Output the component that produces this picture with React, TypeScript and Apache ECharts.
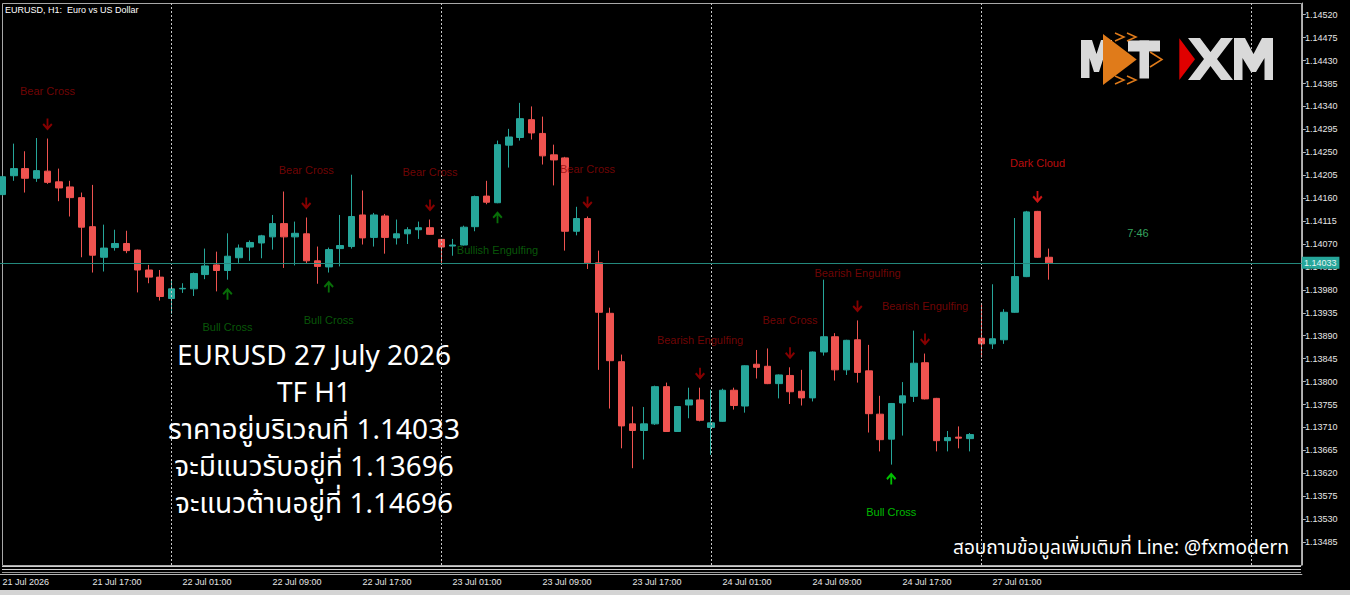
import React, { useEffect, useRef } from 'react';
import * as echarts from 'echarts';

// ---- data ----
const dayHours: [string, number, number][] = [
  ['21 Jul', 9, 23], ['22 Jul', 0, 23], ['23 Jul', 0, 23], ['24 Jul', 0, 23], ['27 Jul', 0, 23], ['28 Jul', 0, 4],
];
const xTickLabels = ['21 Jul 2026', '21 Jul 17:00', '22 Jul 01:00', '22 Jul 09:00', '22 Jul 17:00', '23 Jul 01:00',
  '23 Jul 09:00', '23 Jul 17:00', '24 Jul 01:00', '24 Jul 09:00', '24 Jul 17:00', '27 Jul 01:00'];
const daySeparators = ['22 Jul 00:00', '23 Jul 00:00', '24 Jul 00:00', '27 Jul 00:00', '28 Jul 00:00'];

const opens = [1.14167, 1.14204, 1.14218, 1.14199, 1.14213, 1.14192, 1.14182, 1.14161, 1.14104, 1.14044,
  1.14063, 1.14071, 1.14058, 1.14019, 1.14005, 1.13963, 1.13982, 1.13982, 1.14010, 1.14029,
  1.14018, 1.14043, 1.14064, 1.14072, 1.14084, 1.14110, 1.14084, 1.14090, 1.14037, 1.14025,
  1.14061, 1.14065, 1.14127, 1.14083, 1.14125, 1.14082, 1.14090, 1.14098, 1.14102, 1.14079,
  1.14066, 1.14068, 1.14104, 1.14164, 1.14151, 1.14264, 1.14279, 1.14314, 1.14287, 1.14245,
  1.14239, 1.14095, 1.14120, 1.14033, 1.13934, 1.13839, 1.13717, 1.13704, 1.13717, 1.13790,
  1.13702, 1.13754, 1.13764, 1.13710, 1.13722, 1.13783, 1.13752, 1.13834, 1.13830, 1.13796,
  1.13812, 1.13781, 1.13768, 1.13858, 1.13888, 1.13823, 1.13882, 1.13821, 1.13736, 1.13687,
  1.13758, 1.13771, 1.13837, 1.13767, 1.13684, 1.13691, 1.13688, 1.13885, 1.13874, 1.13882,
  1.13936, 1.14006, 1.14134, 1.14044];
const closes = [1.14202, 1.14218, 1.14199, 1.14214, 1.14191, 1.14180, 1.14161, 1.14103, 1.14048, 1.14062,
  1.14071, 1.14057, 1.14019, 1.14005, 1.13967, 1.13982, 1.13983, 1.14012, 1.14027, 1.14018,
  1.14046, 1.14062, 1.14073, 1.14086, 1.14110, 1.14084, 1.14091, 1.14037, 1.14026, 1.14059,
  1.14067, 1.14124, 1.14082, 1.14127, 1.14083, 1.14090, 1.14098, 1.14102, 1.14089, 1.14064,
  1.14068, 1.14103, 1.14163, 1.14152, 1.14265, 1.14280, 1.14316, 1.14288, 1.14243, 1.14235,
  1.14095, 1.14120, 1.14033, 1.13936, 1.13841, 1.13713, 1.13704, 1.13717, 1.13790, 1.13702,
  1.13751, 1.13764, 1.13724, 1.13719, 1.13783, 1.13753, 1.13831, 1.13828, 1.13796, 1.13813,
  1.13780, 1.13768, 1.13858, 1.13888, 1.13823, 1.13881, 1.13818, 1.13737, 1.13686, 1.13757,
  1.13772, 1.13836, 1.13766, 1.13684, 1.13690, 1.13689, 1.13696, 1.13874, 1.13884, 1.13936,
  1.14006, 1.14133, 1.14044, 1.14033];
const lows = [1.14165, 1.14194, 1.14171, 1.14192, 1.14188, 1.14154, 1.14124, 1.14044, 1.14014, 1.14016,
  1.14057, 1.14052, 1.13975, 1.13993, 1.13959, 1.13933, 1.13974, 1.13968, 1.14001, 1.13977,
  1.14000, 1.14033, 1.14037, 1.14042, 1.14059, 1.14023, 1.14028, 1.14031, 1.13992, 1.14014,
  1.14026, 1.14061, 1.14069, 1.14065, 1.14051, 1.14069, 1.14070, 1.14080, 1.14088, 1.14033,
  1.14047, 1.14067, 1.14095, 1.14148, 1.14150, 1.14220, 1.14273, 1.14275, 1.14226, 1.14185,
  1.14057, 1.14087, 1.14021, 1.13823, 1.13747, 1.13669, 1.13630, 1.13647, 1.13715, 1.13701,
  1.13701, 1.13728, 1.13722, 1.13656, 1.13721, 1.13745, 1.13739, 1.13806, 1.13795, 1.13767,
  1.13756, 1.13753, 1.13761, 1.13851, 1.13802, 1.13813, 1.13798, 1.13700, 1.13663, 1.13637,
  1.13694, 1.13760, 1.13765, 1.13663, 1.13663, 1.13669, 1.13663, 1.13847, 1.13864, 1.13874,
  1.13935, 1.14005, 1.14043, 1.14000];
const highs = [1.14204, 1.14267, 1.14252, 1.14278, 1.14277, 1.14218, 1.14194, 1.14171, 1.14186, 1.14108,
  1.14098, 1.14096, 1.14059, 1.14029, 1.14019, 1.14000, 1.13993, 1.14014, 1.14061, 1.14055,
  1.14091, 1.14069, 1.14077, 1.14088, 1.14127, 1.14173, 1.14114, 1.14122, 1.14065, 1.14063,
  1.14127, 1.14206, 1.14175, 1.14131, 1.14129, 1.14118, 1.14103, 1.14114, 1.14118, 1.14080,
  1.14080, 1.14106, 1.14165, 1.14194, 1.14273, 1.14296, 1.14347, 1.14340, 1.14320, 1.14265,
  1.14241, 1.14143, 1.14124, 1.14057, 1.13945, 1.13853, 1.13751, 1.13750, 1.13792, 1.13798,
  1.13752, 1.13788, 1.13788, 1.13784, 1.13786, 1.13788, 1.13832, 1.13862, 1.13865, 1.13814,
  1.13828, 1.13823, 1.13859, 1.14000, 1.13895, 1.13882, 1.13920, 1.13872, 1.13772, 1.13758,
  1.13799, 1.13900, 1.13855, 1.13768, 1.13703, 1.13712, 1.13699, 1.13951, 1.13991, 1.13942,
  1.14121, 1.14135, 1.14135, 1.14061];

const bearSignals = [
  { idx: 4, text: 'Bear Cross', fresh: false },
  { idx: 27, text: 'Bear Cross', fresh: false },
  { idx: 38, text: 'Bear Cross', fresh: false },
  { idx: 52, text: 'Bear Cross', fresh: false },
  { idx: 62, text: 'Bearish Engulfing', fresh: false },
  { idx: 70, text: 'Bear Cross', fresh: false },
  { idx: 76, text: 'Bearish Engulfing', fresh: false },
  { idx: 82, text: 'Bearish Engulfing', fresh: false },
  { idx: 92, text: 'Dark Cloud', fresh: true },
];
const bullSignals = [
  { idx: 20, text: 'Bull Cross', fresh: false },
  { idx: 29, text: 'Bull Cross', fresh: false },
  { idx: 44, text: 'Bullish Engulfing', fresh: false },
  { idx: 79, text: 'Bull Cross', fresh: true },
];

const currentPrice = 1.14033;
const yMin = 1.1344;
const yMax = 1.14543;
const yStep = 0.00045;
const timerText = '7:46';
const titleText = 'EURUSD, H1:  Euro vs US Dollar';
const infoLines = [
  'EURUSD 27 July 2026',
  'TF H1',
  'ราคาอยู่บริเวณที่ 1.14033',
  'จะมีแนวรับอยู่ที่ 1.13696',
  'จะแนวต้านอยู่ที่ 1.14696',
];
const contactText = 'สอบถามข้อมูลเพิ่มเติมที่ Line: @fxmodern';

// ---- derived ----
const categories: string[] = [];
dayHours.forEach(([d, a, b]) => {
  for (let h = a; h <= b; h++) categories.push(`${d} ${String(h).padStart(2, '0')}:00`);
});
const candleData = categories.map((_, i) =>
  i < opens.length ? [opens[i], closes[i], lows[i], highs[i]] : '-'
);

const DOWN = 'path://M4,0L6,0L6,7.5L9,4.5L10.5,6L5,11.5L-0.5,6L1,4.5L4,7.5Z';
const UP = 'path://M4,11.5L6,11.5L6,4L9,7L10.5,5.5L5,0L-0.5,5.5L1,7L4,4Z';

const UI_FONT = "'Liberation Sans', Arial, sans-serif";
const THAI_FONT = "'Noto Sans Thai', 'Noto Sans Thai Looped', 'Noto Sans', 'DejaVu Sans', sans-serif";

const OX = 5; // chart div starts OX px left of the page edge
const isTick = (i: number) => i % 8 === 0 && i / 8 < xTickLabels.length;

export default function App() {
  const ref = useRef<HTMLDivElement>(null);
  useEffect(() => {
    if (!ref.current) return;
    const chart = echarts.init(ref.current, null, { renderer: 'svg' });
    const logoGray = '#d9d9d9';
    const orange = '#e07b1a';
    const decor: any[] = [
      { type: 'rect', silent: true, shape: { x: 2.5, y: 3.5, width: 1299, height: 562 }, style: { fill: 'none', stroke: '#a8a8a8', lineWidth: 1 } },
      { type: 'line', silent: true, shape: { x1: 2, y1: 566.5, x2: 1301, y2: 566.5 }, style: { stroke: '#d0d0d0', lineWidth: 1 } },
      { type: 'line', silent: true, shape: { x1: 2, y1: 569.5, x2: 1301, y2: 569.5 }, style: { stroke: '#d0d0d0', lineWidth: 1 } },
      { type: 'line', silent: true, shape: { x1: 2, y1: 572.5, x2: 1301, y2: 572.5 }, style: { stroke: '#9a9a9a', lineWidth: 1 } },
      { type: 'rect', silent: true, shape: { x: 0, y: 590, width: 1350, height: 5 }, style: { fill: '#d4d4d4' } },
      { type: 'text', silent: true, z: 100, x: 5, y: 10, style: { text: titleText, fill: '#ffffff', fontSize: 9, fontFamily: UI_FONT, verticalAlign: 'middle' } },
      { type: 'text', silent: true, z: 100, x: 1138, y: 233, style: { text: timerText, fill: '#35a35e', fontSize: 11, fontFamily: UI_FONT, align: 'center', verticalAlign: 'middle' } },
      {
        type: 'text', silent: true, z: 100, x: 314, y: 430.4,
        style: { text: infoLines.join('\n'), fill: '#ffffff', fontSize: 28, lineHeight: 37.2, fontFamily: THAI_FONT, align: 'center', verticalAlign: 'middle' },
      },
      { type: 'text', silent: true, z: 100, x: 1289, y: 548, style: { text: contactText, fill: '#ffffff', fontSize: 19, fontFamily: THAI_FONT, align: 'right', verticalAlign: 'middle' } },
      // logo MT
      { type: 'polygon', silent: true, z: 50, shape: { points: [[1081, 78], [1081, 40], [1092, 40], [1096.5, 54], [1101, 40], [1112, 40], [1112, 78], [1103.5, 78], [1103.5, 58], [1099, 72], [1094, 72], [1089.5, 58], [1089.5, 78]] }, style: { fill: logoGray } },
      { type: 'polygon', silent: true, z: 51, shape: { points: [[1103, 34], [1103, 85], [1136.7, 59.5]] }, style: { fill: orange } },
      { type: 'rect', silent: true, z: 52, shape: { x: 1128, y: 40.5, width: 32, height: 11 }, style: { fill: logoGray } },
      { type: 'rect', silent: true, z: 52, shape: { x: 1139.5, y: 40.5, width: 9.5, height: 38 }, style: { fill: logoGray } },
      { type: 'polyline', silent: true, z: 52, shape: { points: [[1115, 33], [1124, 37], [1115, 41]] }, style: { stroke: orange, lineWidth: 1.5, fill: 'none' } },
      { type: 'polyline', silent: true, z: 52, shape: { points: [[1127, 33], [1136, 37], [1127, 41]] }, style: { stroke: orange, lineWidth: 1.5, fill: 'none' } },
      { type: 'polyline', silent: true, z: 52, shape: { points: [[1150, 52], [1162, 59.5], [1150, 67]] }, style: { stroke: orange, lineWidth: 1.5, fill: 'none' } },
      { type: 'polyline', silent: true, z: 52, shape: { points: [[1115, 76], [1124, 80], [1115, 84]] }, style: { stroke: orange, lineWidth: 1.5, fill: 'none' } },
      { type: 'polyline', silent: true, z: 52, shape: { points: [[1127, 76], [1136, 80], [1127, 84]] }, style: { stroke: orange, lineWidth: 1.5, fill: 'none' } },
      // logo XM
      { type: 'polygon', silent: true, z: 50, shape: { points: [[1179.3, 38.3], [1179.3, 80], [1195, 59.3]] }, style: { fill: '#e00000' } },
      { type: 'polygon', silent: true, z: 50, shape: { points: [[1188, 38], [1200, 38], [1210.5, 52], [1221, 38], [1233, 38], [1217, 59], [1233, 80], [1221, 80], [1210.5, 66], [1200, 80], [1188, 80], [1204, 59]] }, style: { fill: logoGray } },
      { type: 'polygon', silent: true, z: 50, shape: { points: [[1234, 80], [1234, 38], [1245, 38], [1253.5, 54], [1262, 38], [1273, 38], [1273, 80], [1264.5, 80], [1264.5, 58], [1256, 72], [1251, 72], [1242.5, 58], [1242.5, 80]] }, style: { fill: logoGray } },
    ];
    const option: any = {
      animation: false,
      backgroundColor: '#000000',
      grid: { left: OX - 3.125, right: 48.125, top: 3, bottom: 30 },
      xAxis: {
        type: 'category',
        data: categories,
        boundaryGap: true,
        offset: 9,
        axisLine: { lineStyle: { color: '#b4b4b4', width: 1 } },
        axisTick: { interval: (i: number) => isTick(i), alignWithLabel: true, length: 4, lineStyle: { color: '#b4b4b4' } },
        axisLabel: {
          interval: (i: number) => isTick(i),
          formatter: (_v: string, i: number) => (isTick(i) ? xTickLabels[i / 8] : ''),
          align: 'left',
          color: '#e6e6e6',
          fontSize: 9,
          fontFamily: UI_FONT,
          margin: 3,
        },
        splitLine: { show: false },
      },
      yAxis: {
        type: 'value',
        position: 'right',
        min: yMin,
        max: yMax,
        interval: yStep,
        axisLine: { show: true, lineStyle: { color: '#b4b4b4' } },
        axisTick: { show: true, length: 4, lineStyle: { color: '#b4b4b4' } },
        axisLabel: {
          color: '#e6e6e6',
          fontSize: 9,
          fontFamily: UI_FONT,
          margin: 3,
          showMinLabel: false,
          showMaxLabel: false,
          formatter: (v: number) => v.toFixed(5),
        },
        splitLine: { show: false },
      },
      series: [
        {
          type: 'candlestick',
          data: candleData,
          barWidth: 7,
          itemStyle: {
            color: '#26a69a',
            color0: '#ef5350',
            borderColor: '#26a69a',
            borderColor0: '#ef5350',
            borderWidth: 1,
          },
          markLine: {
            silent: true,
            symbol: 'none',
            animation: false,
            data: daySeparators.map((c) => ({
              xAxis: c,
              label: { show: false },
              lineStyle: { color: '#c8c8c8', type: [2, 2], width: 1 },
            })),
          },
        },
        {
          type: 'scatter',
          symbol: DOWN,
          symbolSize: [10, 12],
          symbolOffset: [0, -14],
          z: 5,
          markLine: {
            silent: true,
            symbol: 'none',
            animation: false,
            precision: 5,
            data: [
              {
                yAxis: currentPrice,
                lineStyle: { color: '#23887c', type: 'solid', width: 1 },
                label: {
                  show: true,
                  position: 'end',
                  distance: 0,
                  formatter: currentPrice.toFixed(5),
                  backgroundColor: '#26a69a',
                  color: '#e8f4f2',
                  fontSize: 9,
                  fontFamily: UI_FONT,
                  padding: [2, 3, 1, 2],
                },
              },
            ],
          },
          data: bearSignals.map((s) => ({
            value: [s.idx, highs[s.idx]],
            itemStyle: { color: s.fresh ? '#ff1a1a' : '#a80000' },
            label: {
              show: true,
              position: 'inside',
              offset: [0, -33.5],
              formatter: s.text,
              color: s.fresh ? '#e81010' : '#8e0606',
              fontSize: 11,
              fontFamily: UI_FONT,
            },
          })),
        },
        {
          type: 'scatter',
          symbol: UP,
          symbolSize: [10, 12],
          symbolOffset: [0, 14],
          z: 5,
          data: bullSignals.map((s) => ({
            value: [s.idx, lows[s.idx]],
            itemStyle: { color: s.fresh ? '#00f000' : '#0a8a0a' },
            label: {
              show: true,
              position: 'inside',
              offset: [0, 33],
              formatter: s.text,
              color: s.fresh ? '#00e600' : '#0b6e0b',
              fontSize: 11,
              fontFamily: UI_FONT,
            },
          })),
        },
      ],
      graphic: [{ type: 'group', x: OX, y: 0, children: decor }],
    };
    chart.setOption(option);
    return () => chart.dispose();
  }, []);
  return (
    <div
      ref={ref}
      style={{ position: 'fixed', left: -OX, top: 0, width: 1350 + OX, height: 595, background: '#000' }}
    />
  );
}
